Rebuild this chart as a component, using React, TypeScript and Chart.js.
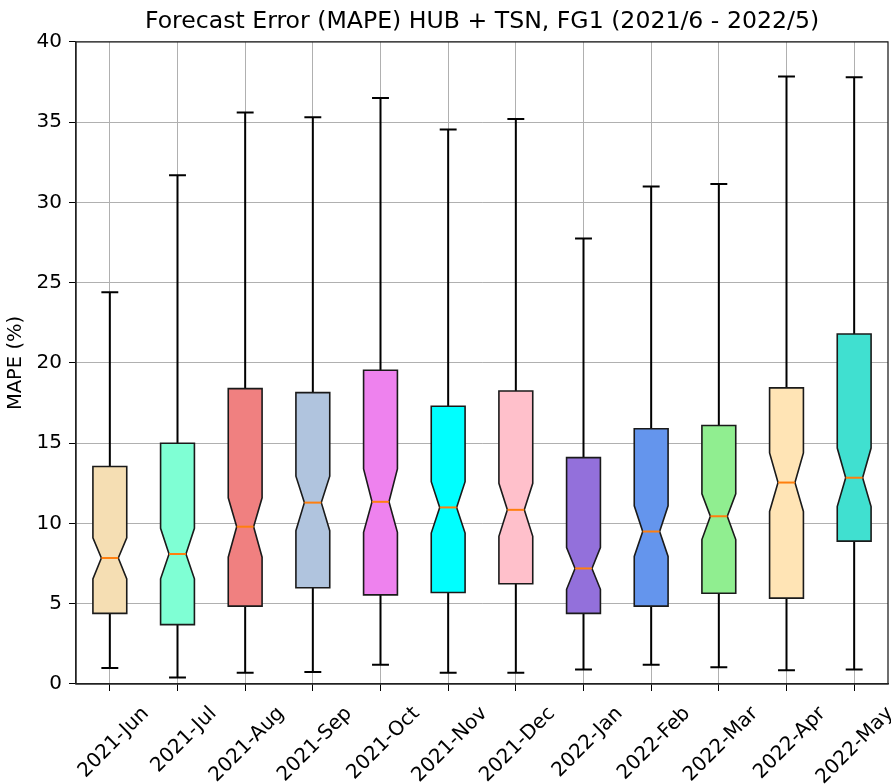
import React, { useEffect, useRef } from "react";
import { Chart, registerables } from "chart.js";

Chart.register(...registerables);

const months = ["2021-Jun", "2021-Jul", "2021-Aug", "2021-Sep", "2021-Oct", "2021-Nov", "2021-Dec", "2022-Jan", "2022-Feb", "2022-Mar", "2022-Apr", "2022-May"];
const whiskerLow = [1.0, 0.4, 0.7, 0.75, 1.2, 0.7, 0.7, 0.9, 1.2, 1.05, 0.85, 0.9];
const q1 = [4.4, 3.7, 4.85, 6.0, 5.55, 5.7, 6.25, 4.4, 4.85, 5.65, 5.35, 8.9];
const notchLow = [6.55, 6.55, 7.9, 9.55, 9.45, 9.4, 9.2, 5.9, 7.95, 9.0, 10.75, 11.05];
const median = [7.85, 8.1, 9.8, 11.3, 11.35, 11.0, 10.85, 7.2, 9.5, 10.45, 12.55, 12.85];
const notchHigh = [9.1, 9.7, 11.6, 12.95, 13.4, 12.6, 12.5, 8.5, 11.1, 11.85, 14.4, 14.7];
const q3 = [13.55, 15.0, 18.4, 18.15, 19.55, 17.3, 18.25, 14.1, 15.9, 16.1, 18.45, 21.8];
const whiskerHigh = [24.4, 31.7, 35.6, 35.3, 36.5, 34.55, 35.2, 27.75, 31.0, 31.15, 37.85, 37.8];
const boxColors = ["#F5DEB3", "#7FFFD4", "#F08080", "#B0C4DE", "#EE82EE", "#00FFFF", "#FFC0CB", "#9370DB", "#6495ED", "#90EE90", "#FFE4B5", "#40E0D0"];
const yTicks = [0, 5, 10, 15, 20, 25, 30, 35, 40];

const FONT = "'DejaVu Sans', sans-serif";

const boxPlugin = {
  id: "notchedBoxes",
  afterDatasetsDraw(chart: any) {
    const ctx = chart.ctx;
    const x = chart.scales.x;
    const y = chart.scales.y;
    const step = x.getPixelForValue(1) - x.getPixelForValue(0);
    const w = step * 0.5;
    ctx.save();
    for (let i = 0; i < months.length; i++) {
      const cx = x.getPixelForValue(i);
      const l = cx - w / 2;
      const r = cx + w / 2;
      const yq1 = y.getPixelForValue(q1[i]);
      const yq3 = y.getPixelForValue(q3[i]);
      const ynl = y.getPixelForValue(notchLow[i]);
      const ynh = y.getPixelForValue(notchHigh[i]);
      const ym = y.getPixelForValue(median[i]);
      const ylo = y.getPixelForValue(whiskerLow[i]);
      const yhi = y.getPixelForValue(whiskerHigh[i]);
      ctx.strokeStyle = "#000";
      ctx.lineWidth = 2;
      ctx.beginPath();
      ctx.moveTo(cx, yq1);
      ctx.lineTo(cx, ylo);
      ctx.moveTo(cx, yq3);
      ctx.lineTo(cx, yhi);
      ctx.moveTo(cx - w / 4, ylo);
      ctx.lineTo(cx + w / 4, ylo);
      ctx.moveTo(cx - w / 4, yhi);
      ctx.lineTo(cx + w / 4, yhi);
      ctx.stroke();
      ctx.beginPath();
      ctx.moveTo(l, yq1);
      ctx.lineTo(r, yq1);
      ctx.lineTo(r, ynl);
      ctx.lineTo(cx + w / 4, ym);
      ctx.lineTo(r, ynh);
      ctx.lineTo(r, yq3);
      ctx.lineTo(l, yq3);
      ctx.lineTo(l, ynh);
      ctx.lineTo(cx - w / 4, ym);
      ctx.lineTo(l, ynl);
      ctx.closePath();
      ctx.fillStyle = boxColors[i];
      ctx.fill();
      ctx.lineWidth = 1.6;
      ctx.strokeStyle = "#1a1a1a";
      ctx.stroke();
      ctx.beginPath();
      ctx.moveTo(cx - w / 4, ym);
      ctx.lineTo(cx + w / 4, ym);
      ctx.strokeStyle = "#ff7f0e";
      ctx.lineWidth = 2;
      ctx.stroke();
    }
    const a = chart.chartArea;
    ctx.strokeStyle = "#222";
    ctx.lineWidth = 1.3;
    ctx.strokeRect(a.left, a.top, a.right - a.left, a.bottom - a.top);
    ctx.restore();
  },
};

export default function App() {
  const ref = useRef<HTMLCanvasElement | null>(null);
  useEffect(() => {
    if (!ref.current) return;
    const chart = new Chart(ref.current, {
      type: "bar",
      data: {
        labels: months,
        datasets: [
          {
            data: months.map((_, i) => [whiskerLow[i], whiskerHigh[i]]) as any,
            backgroundColor: "rgba(0,0,0,0)",
            borderWidth: 0,
          },
        ],
      },
      options: {
        animation: false,
        responsive: false,
        maintainAspectRatio: false,
        layout: { padding: { top: 0, right: 3, left: 0, bottom: 0 } },
        plugins: {
          legend: { display: false },
          tooltip: { enabled: false },
          title: {
            display: true,
            text: "Forecast Error (MAPE) HUB + TSN, FG1 (2021/6 - 2022/5)",
            color: "#000",
            fullSize: false,
            font: { family: FONT, size: 23.6, weight: "normal" },
            padding: { top: 8, bottom: 5.6 },
          },
        },
        scales: {
          x: {
            type: "category",
            offset: true,
            grid: { display: true, offset: false, color: "#b0b0b0", lineWidth: 1, tickLength: 7, tickColor: "#000" },
            border: { display: true, color: "#222", width: 1.3 },
            ticks: {
              color: "#000",
              font: { family: FONT, size: 20 },
              maxRotation: 45,
              minRotation: 45,
              autoSkip: false,
              labelOffset: 36,
              padding: 11,
            },
            afterFit: (s: any) => {
              s.height = 100;
            },
          },
          y: {
            min: 0,
            max: 40,
            afterBuildTicks: (s: any) => {
              s.ticks = yTicks.map((v) => ({ value: v }));
            },
            grid: { color: "#b0b0b0", lineWidth: 1, tickLength: 7, tickColor: "#000" },
            border: { display: true, color: "#222", width: 1.3 },
            ticks: { color: "#000", font: { family: FONT, size: 20 }, padding: 7 },
            title: { display: true, text: "MAPE (%)", color: "#000", font: { family: FONT, size: 19.5 }, padding: { top: 4.5, bottom: 0 } },
            afterFit: (s: any) => {
              s.width = 76;
            },
          },
        },
      },
      plugins: [boxPlugin],
    });
    return () => chart.destroy();
  }, []);
  return (
    <div style={{ position: "fixed", left: 0, top: 0, width: 891, height: 784, background: "#fff" }}>
      <canvas ref={ref} width={891} height={784} style={{ width: 891, height: 784 }} />
    </div>
  );
}
